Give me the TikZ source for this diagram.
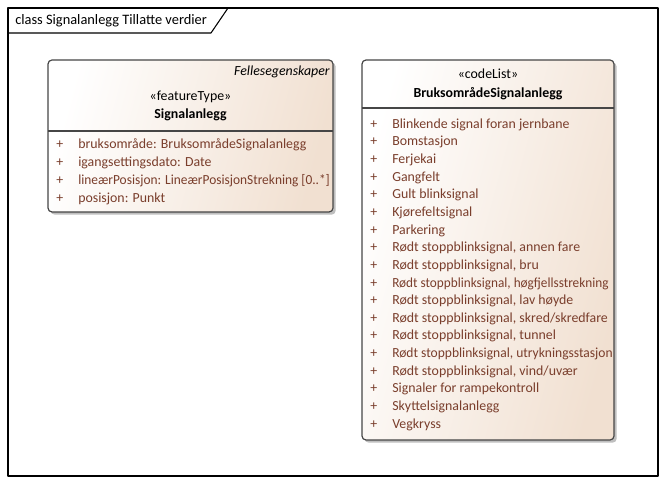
\documentclass[tikz,border=0pt]{standalone}
\usepackage{fontspec}
\setmainfont{Carlito}
\usepackage{tikz}
\usepackage{xcolor}
\usetikzlibrary{shadows}

\definecolor{attrtext}{RGB}{122,62,44}
\definecolor{boxfill}{RGB}{241,224,209}
\definecolor{boxline}{RGB}{70,70,70}

\newcommand{\squeeze}[2]{\scalebox{#1}[1]{#2}}

\tikzset{
    classbox/.style={draw=boxline,line width=0.9pt,rounded corners=3pt,left color=white,right color=boxfill,shading angle=75,
        drop shadow={shadow xshift=2pt,shadow yshift=-2pt,fill=black!25,opacity=1}},
    hdr/.style={anchor=base,inner sep=0pt},
    plus/.style={anchor=base west,inner sep=0pt,text=attrtext},
    attr/.style={anchor=base west,inner sep=0pt,text=attrtext}
}

\begin{document}
\begin{tikzpicture}[x=0.75pt,y=-0.75pt,line join=round,font=\fontsize{10.4}{12}\selectfont]
\useasboundingbox (0,0) rectangle (666,484);
% frame and title tab
\draw[line width=0.8pt] (8,8) rectangle (658,476);
\draw[line width=0.8pt] (8,33) -- (211,33) -- (228,8);
\node[anchor=base west,inner sep=0pt,font=\fontsize{10.8}{13}\selectfont] (title) at (15,25) {class Signalanlegg Tillatte verdier};

% Signalanlegg
\path[classbox] (48,60) rectangle (333,212);
\draw[boxline,line width=0.9pt] (48,131) -- (333,131);
\node[anchor=base east,inner sep=0pt] (sigparent) at (330,75.5) {\itshape Fellesegenskaper};
\node[hdr] (sigstereo) at (190.5,101) {«featureType»};
\node[hdr] (signame) at (190.5,118.5) {\bfseries Signalanlegg};
\foreach \t [count=\i] in {bruksområde: BruksområdeSignalanlegg,igangsettingsdato: Date,
    {\squeeze{0.965}{lineærPosisjon: LineærPosisjonStrekning [0..*]}},posisjon: Punkt} {
    \node[plus] (sigp\i) at (56,131+18*\i) {+};
    \node[attr] (siga\i) at (78,131+18*\i) {\t};
}

% BruksområdeSignalanlegg
\path[classbox] (362,60) rectangle (614,440);
\draw[boxline,line width=0.9pt] (362,108) -- (614,108);
\node[hdr] (bruksstereo) at (488,79) {«codeList»};
\node[hdr] (bruksname) at (488,97.5) {\bfseries BruksområdeSignalanlegg};
\foreach \t [count=\i] in {Blinkende signal foran jernbane,Bomstasjon,Ferjekai,Gangfelt,Gult blinksignal,
    Kjørefeltsignal,Parkering,{Rødt stoppblinksignal, annen fare},{Rødt stoppblinksignal, bru},
    {\squeeze{0.955}{Rødt stoppblinksignal, høgfjellsstrekning}},{Rødt stoppblinksignal, lav høyde},
    {Rødt stoppblinksignal, skred/skredfare},{Rødt stoppblinksignal, tunnel},
    {\squeeze{0.975}{Rødt stoppblinksignal, utrykningsstasjon}},{Rødt stoppblinksignal, vind/uvær},
    Signaler for rampekontroll,Skyttelsignalanlegg,Vegkryss} {
    \node[plus] (bruksp\i) at (370,110.5+17.65*\i) {+};
    \node[attr] (bruksa\i) at (392,110.5+17.65*\i) {\t};
}
\end{tikzpicture}
\end{document}
